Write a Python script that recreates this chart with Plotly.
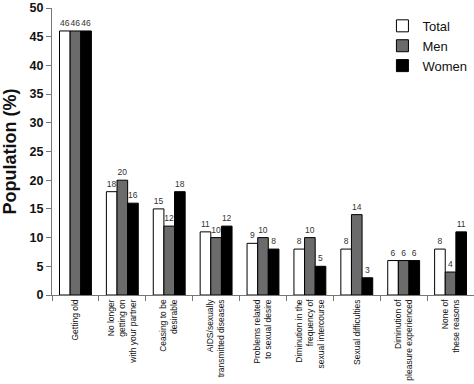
import plotly.graph_objects as go

categories = [
    "Getting old",
    "No longer<br>getting on<br>with your partner",
    "Ceasing to be<br>desirable",
    "AIDS/sexually<br>transmitted diseases",
    "Problems related<br>to sexual desire",
    "Diminution in the<br>frequency of<br>sexual intercourse",
    "Sexual difficulties",
    "Diminution of<br>pleasure experienced",
    "None of<br>these reasons",
]
total = [46, 18, 15, 11, 9, 8, 8, 6, 8]
men = [46, 20, 12, 10, 10, 10, 14, 6, 4]
women = [46, 16, 18, 12, 8, 5, 3, 6, 11]
y_ticks = [0, 5, 10, 15, 20, 25, 30, 35, 40, 45, 50]

series = [("Total", total, "#ffffff"), ("Men", men, "#6b6b6b"), ("Women", women, "#000000")]

fig = go.Figure()
for name, vals, color in series:
    fig.add_trace(go.Bar(
        name=name, x=categories, y=vals,
        marker=dict(color=color, line=dict(color="#000000", width=1)),
        text=[str(v) for v in vals], textposition="outside",
        textfont=dict(family="Liberation Sans, Arial", size=8.5, color="#333333"),
        cliponaxis=False,
    ))

fig.update_layout(
    width=474, height=384,
    margin=dict(l=52, r=0, t=8, b=89),
    paper_bgcolor="white", plot_bgcolor="white",
    barmode="group", bargap=0.32, bargroupgap=0,
    font=dict(family="Liberation Sans, Arial", color="#000000"),
    showlegend=True,
    legend=dict(x=0.783, y=0.99, xanchor="left", yanchor="top",
                font=dict(size=13, color="#111111"), tracegroupgap=0,
                itemwidth=30, bgcolor="rgba(0,0,0,0)"),
)
fig.update_yaxes(
    range=[0, 50], tickvals=y_ticks, ticks="outside", ticklen=5,
    tickcolor="#777777", showline=True, linecolor="#777777", linewidth=1,
    showgrid=False, zeroline=False, automargin=False,
    tickfont=dict(size=12.5, family="Liberation Sans, Arial", color="#111111", weight="bold"),
    title=dict(text="<b>Population (%)</b>", font=dict(size=18, color="#111111"), standoff=8),
)
fig.update_xaxes(
    tickson="boundaries", ticks="outside", ticklen=5, tickcolor="#777777",
    showline=True, linecolor="#777777", linewidth=1, showgrid=False,
    automargin=False,
    tickangle=-90, tickfont=dict(size=8.5, color="#111111"),
)
fig.write_html("out.html", config={"displayModeBar": False},
               post_script="document.body.style.margin='0';document.body.style.overflow='hidden';")
